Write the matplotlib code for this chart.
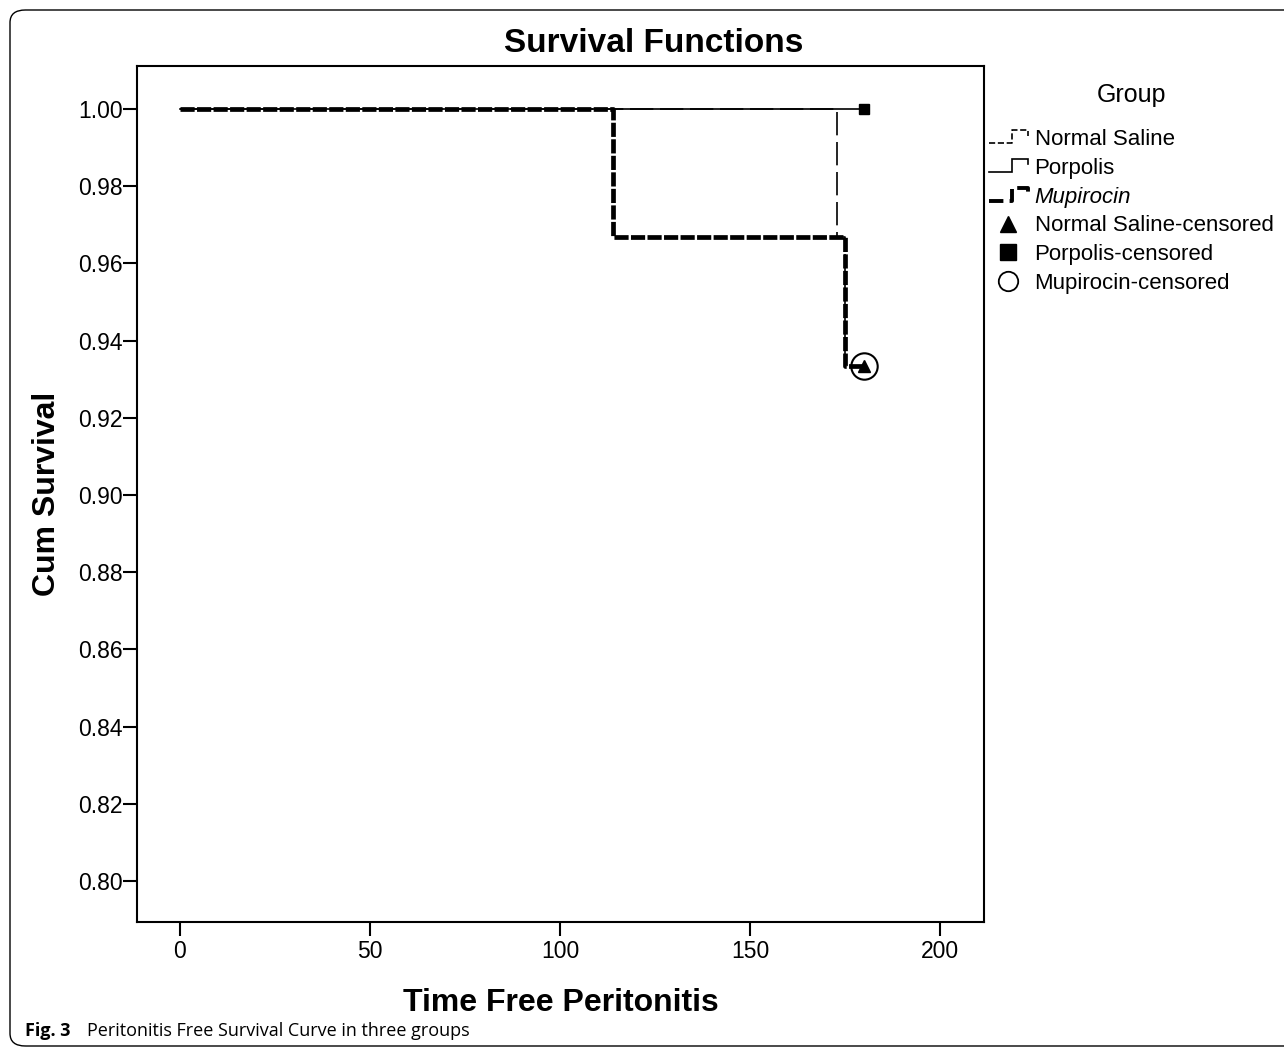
import numpy as np
import matplotlib.pyplot as plt
from matplotlib.lines import Line2D
from matplotlib.legend_handler import HandlerBase
from matplotlib.patches import FancyBboxPatch

plt.rcParams['font.family'] = ['Liberation Sans', 'DejaVu Sans']

# survival steps (time, cum survival)
saline_t = [0, 173, 173, 175, 175, 180]
saline_s = [1.0, 1.0, 0.9667, 0.9667, 0.9333, 0.9333]
porpolis_t = [0, 180]
porpolis_s = [1.0, 1.0]
mupi_t = [0, 114, 114, 175, 175, 180]
mupi_s = [1.0, 1.0, 0.9667, 0.9667, 0.9333, 0.9333]

# censored points
cens_saline = (180, 0.9333)
cens_porpolis = (180, 1.0)
cens_mupi = (180, 0.9333)

xticks = [0, 50, 100, 150, 200]
yticks = [0.80, 0.82, 0.84, 0.86, 0.88, 0.90, 0.92, 0.94, 0.96, 0.98, 1.00]


class StepHandler(HandlerBase):   # petite icone en escalier pour la legende
    def create_artists(self, legend, orig, xd, yd, width, height, fontsize, trans):
        x = [xd + 0, xd + width * 0.6, xd + width * 0.6, xd + width, xd + width]
        y = [yd + height * 0.1, yd + height * 0.1, yd + height * 0.95, yd + height * 0.95, yd + height * 0.6]
        l = Line2D(x, y, color='black', lw=orig.get_linewidth(), linestyle=orig.get_linestyle(),
                   solid_joinstyle='miter', transform=trans)
        return [l]


fig = plt.figure(figsize=(12.84, 10.5), dpi=100)
ax = fig.add_axes([137 / 1284, 1 - 922 / 1050, 847 / 1284, 856 / 1050])

ax.plot(porpolis_t, porpolis_s, color='black', lw=1.2, zorder=2)
ax.plot(saline_t, saline_s, color='black', lw=1.2, dashes=(14, 4), zorder=3)
ax.plot(mupi_t, mupi_s, color='black', lw=3.4, dashes=(3, 0.5), zorder=4)

ax.plot(*cens_porpolis, marker='s', color='black', ms=6.5, zorder=5)
ax.plot(*cens_saline, marker='^', color='black', ms=8, zorder=5)
ax.plot(*cens_mupi, marker='o', mfc='none', mec='black', mew=1.5, ms=19, zorder=5)

ax.set_xlim(-11.3, 211.6)
ax.set_ylim(0.7894, 1.0111)
ax.set_xticks(xticks)
ax.set_xticklabels([str(v) for v in xticks])
ax.set_yticks(yticks)
ax.set_yticklabels(['%.2f' % v for v in yticks])
ax.tick_params(direction='out', length=10, width=1.5, labelsize=16.5, pad=0)
ax.tick_params(axis='x', pad=3)
for s in ax.spines.values():
    s.set_linewidth(1.5)

ax.set_xlabel('Time Free Peritonitis', fontsize=23, fontweight='bold', labelpad=18)
ax.set_ylabel('Cum Survival', fontsize=23, fontweight='bold', labelpad=12)
fig.text(654 / 1284, 1 - 44 / 1050, 'Survival Functions', fontsize=24, fontweight='bold',
         ha='center', va='center')

handles = [Line2D([], [], color='black', lw=1.2, linestyle=(0, (10, 3))),
           Line2D([], [], color='black', lw=1.2, linestyle='-'),
           Line2D([], [], color='black', lw=2.8, linestyle=(0, (3, 0.6))),
           Line2D([], [], color='black', marker='^', ms=11, lw=0),
           Line2D([], [], color='black', marker='s', ms=12, lw=0),
           Line2D([], [], mfc='none', mec='black', marker='o', ms=14, lw=0, mew=1.3)]
labels = ['Normal Saline', 'Porpolis', 'Mupirocin', 'Normal Saline-censored',
          'Porpolis-censored', 'Mupirocin-censored']
hm = {handles[0]: StepHandler(), handles[1]: StepHandler(), handles[2]: StepHandler()}
fig.text(1132 / 1284, 1 - 95 / 1050, 'Group', fontsize=18, ha='center', va='center')
leg = fig.legend(handles, labels, handler_map=hm, loc='upper left',
                 bbox_to_anchor=(989 / 1284, 1 - 129 / 1050), frameon=False, fontsize=16,
                 handlelength=1.75, handletextpad=0.3, labelspacing=0.35,
                 borderaxespad=0, borderpad=0)
leg.get_texts()[2].set_style('italic')

# cadre arrondi et legende de la figure
box = FancyBboxPatch((10 / 1284, 1 - 1046 / 1050), 1.2, 1036 / 1050,
                     boxstyle='round,pad=0,rounding_size=0.012', transform=fig.transFigure,
                     fill=False, ec='black', lw=1.0)
fig.patches.append(box)
fig.text(25 / 1284, 1 - 1031 / 1050, 'Fig. 3', fontsize=13, fontweight='bold',
         family=['Open Sans', 'DejaVu Sans'], va='center')
fig.text(87 / 1284, 1 - 1031 / 1050, 'Peritonitis Free Survival Curve in three groups',
         fontsize=13, family=['Open Sans', 'DejaVu Sans'], va='center')

plt.savefig('out.png', dpi=100)
